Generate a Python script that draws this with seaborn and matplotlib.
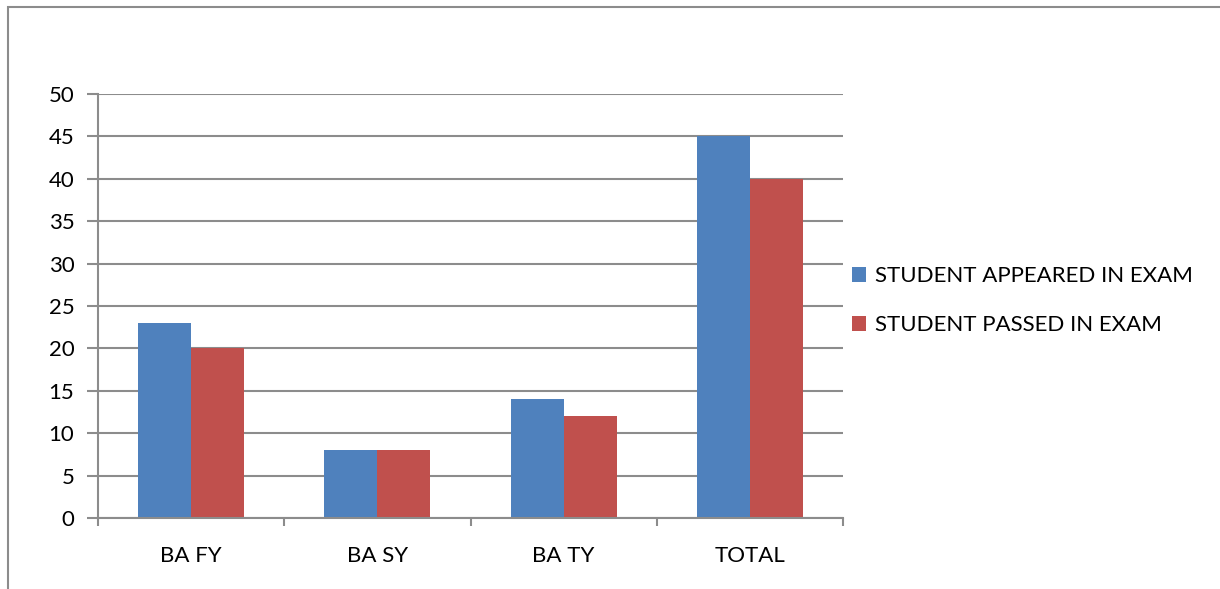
import pandas as pd
import matplotlib
matplotlib.use("Agg")
import matplotlib.pyplot as plt
import seaborn as sns
from matplotlib.patches import Rectangle

# data
classes = ["BA FY", "BA SY", "BA TY", "TOTAL"]
appeared = [23, 8, 14, 45]
passed = [20, 8, 12, 40]
series = ["STUDENT APPEARED IN EXAM", "STUDENT PASSED IN EXAM"]
colors = ["#4F81BD", "#C0504D"]

df = pd.DataFrame({
    "class": classes * 2,
    "value": appeared + passed,
    "series": [series[0]] * 4 + [series[1]] * 4,
})

sns.set_style("white")
plt.rcParams["font.family"] = ["Lato", "DejaVu Sans"]
plt.rcParams["text.color"] = "black"
plt.rcParams["xtick.color"] = "black"
plt.rcParams["ytick.color"] = "black"

fig = plt.figure(figsize=(12.2, 5.89), dpi=100)
ax = fig.add_axes([98 / 1220, 1 - 518 / 589, (843 - 98) / 1220, (518 - 94) / 589])

sns.barplot(data=df, x="class", y="value", hue="series", palette=colors,
            width=0.57, gap=0, saturation=1, ax=ax, edgecolor="none")

ax.set_ylim(0, 50)
ax.set_xlim(-0.5, 3.5)
ax.set_yticks(range(0, 51, 5))
ax.yaxis.grid(True, color="#8c8c8c", linewidth=1.5)
ax.set_axisbelow(True)
ax.set_xlabel("")
ax.set_ylabel("")

for s in ["top", "right"]:
    ax.spines[s].set_visible(False)
for s in ["left", "bottom"]:
    ax.spines[s].set_color("#8c8c8c")
    ax.spines[s].set_linewidth(1.5)

ax.tick_params(axis="y", length=8, width=1.5, color="#8c8c8c", labelsize=16,
               labelcolor="black", pad=9, left=True)
ax.tick_params(axis="x", which="major", length=0, labelsize=16,
               labelcolor="black", pad=20)
ax.set_xticks([-0.5, 0.5, 1.5, 2.5, 3.5], minor=True)
ax.tick_params(axis="x", which="minor", length=6, width=1.5, color="#8c8c8c", bottom=True)

ax.legend(loc="center left", bbox_to_anchor=(1.0, 0.512), frameon=False,
          fontsize=16, handlelength=0.65, handleheight=0.65, handletextpad=0.4,
          labelspacing=1.3, borderaxespad=0.0)

# thin grey frame around the chart area (right/bottom edges fall outside the image)
fig.patches.append(Rectangle((8 / 1220, -0.05), 1.1, 1 - 7 / 589 + 0.05,
                             transform=fig.transFigure, fill=False,
                             edgecolor="#8c8c8c", linewidth=1.5))

fig.savefig("out.png", dpi=100)
